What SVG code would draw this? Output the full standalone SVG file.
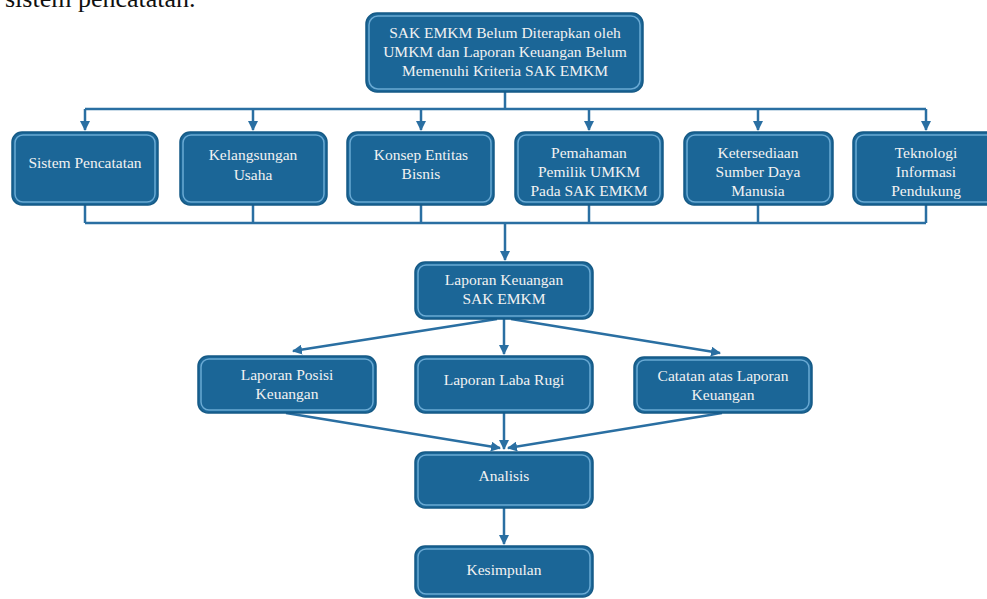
<svg xmlns="http://www.w3.org/2000/svg" width="987" height="599" viewBox="0 0 987 599">
<defs>
<style>
.box{fill:#1b6697;stroke:#155a86;stroke-width:1.5}
.hi{fill:none;stroke:#6aaad4;stroke-width:1.5}
.t{font-family:"Liberation Serif","Times New Roman",serif;font-size:15.5px;fill:#f2f2f2;text-anchor:middle}
.c{fill:none;stroke:#2a6fa2;stroke-width:2.5}
</style>
<marker id="ah" viewBox="0 0 10 10" refX="9" refY="5" markerWidth="4" markerHeight="4" orient="auto" markerUnits="strokeWidth">
<path d="M0,0 L10,5 L0,10 z" fill="#2a6fa2"/>
</marker>
</defs>
<rect width="987" height="599" fill="#ffffff"/>
<text x="5" y="7" font-family="Liberation Serif, serif" font-size="26" fill="#111">sistem pencatatan.</text>

<g id="connectors">
<path class="c" d="M505,92 V109 M85,109 H926"/>
<path class="c" marker-end="url(#ah)" d="M85,109 V130"/>
<path class="c" marker-end="url(#ah)" d="M253,109 V130"/>
<path class="c" marker-end="url(#ah)" d="M421,109 V130"/>
<path class="c" marker-end="url(#ah)" d="M589,109 V130"/>
<path class="c" marker-end="url(#ah)" d="M758,109 V130"/>
<path class="c" marker-end="url(#ah)" d="M926,109 V130"/>
<path class="c" d="M85,205 V223 M253,205 V223 M421,205 V223 M589,205 V223 M758,205 V223 M926,205 V223 M85,223 H926"/>
<path class="c" marker-end="url(#ah)" d="M505,223 V260"/>
<path class="c" marker-end="url(#ah)" d="M497,319 L293,351"/>
<path class="c" marker-end="url(#ah)" d="M504,319 V354"/>
<path class="c" marker-end="url(#ah)" d="M511,319 L720,353"/>
<path class="c" marker-end="url(#ah)" d="M286,413 L500,448"/>
<path class="c" marker-end="url(#ah)" d="M504,413 V449"/>
<path class="c" marker-end="url(#ah)" d="M722,413 L508,448"/>
<path class="c" marker-end="url(#ah)" d="M504,508 V544"/>
</g>

<g id="n-top">
<rect class="box" x="366" y="13" width="277" height="79" rx="11"/>
<rect class="hi" x="369" y="16" width="271" height="73" rx="9"/>
<text class="t" x="505" y="38">SAK EMKM Belum Diterapkan oleh</text>
<text class="t" x="505" y="57">UMKM dan Laporan Keuangan Belum</text>
<text class="t" x="505" y="76">Memenuhi Kriteria SAK EMKM</text>
</g>

<g id="n-sistem">
<rect class="box" x="12" y="132" width="146" height="73" rx="10"/>
<rect class="hi" x="15" y="135" width="140" height="67" rx="8"/>
<text class="t" x="85" y="168">Sistem Pencatatan</text>
</g>
<g id="n-kelangsungan">
<rect class="box" x="180" y="132" width="147" height="73" rx="10"/>
<rect class="hi" x="183" y="135" width="141" height="67" rx="8"/>
<text class="t" x="253" y="160">Kelangsungan</text>
<text class="t" x="253" y="180">Usaha</text>
</g>
<g id="n-konsep">
<rect class="box" x="347" y="132" width="147" height="73" rx="10"/>
<rect class="hi" x="350" y="135" width="141" height="67" rx="8"/>
<text class="t" x="421" y="160">Konsep Entitas</text>
<text class="t" x="421" y="179">Bisnis</text>
</g>
<g id="n-pemahaman">
<rect class="box" x="515" y="132" width="148" height="73" rx="10"/>
<rect class="hi" x="518" y="135" width="142" height="67" rx="8"/>
<text class="t" x="589" y="158">Pemahaman</text>
<text class="t" x="589" y="177">Pemilik UMKM</text>
<text class="t" x="589" y="196">Pada SAK EMKM</text>
</g>
<g id="n-ketersediaan">
<rect class="box" x="684" y="132" width="149" height="73" rx="10"/>
<rect class="hi" x="687" y="135" width="143" height="67" rx="8"/>
<text class="t" x="758" y="158">Ketersediaan</text>
<text class="t" x="758" y="177">Sumber Daya</text>
<text class="t" x="758" y="196">Manusia</text>
</g>
<g id="n-teknologi">
<rect class="box" x="853" y="132" width="148" height="73" rx="10"/>
<rect class="hi" x="856" y="135" width="142" height="67" rx="8"/>
<text class="t" x="926" y="158">Teknologi</text>
<text class="t" x="926" y="177">Informasi</text>
<text class="t" x="926" y="196">Pendukung</text>
</g>

<g id="n-laporan">
<rect class="box" x="415" y="262" width="178" height="57" rx="10"/>
<rect class="hi" x="418" y="265" width="172" height="51" rx="8"/>
<text class="t" x="504" y="285">Laporan Keuangan</text>
<text class="t" x="504" y="304">SAK EMKM</text>
</g>

<g id="n-posisi">
<rect class="box" x="198" y="356" width="178" height="57" rx="10"/>
<rect class="hi" x="201" y="359" width="172" height="51" rx="8"/>
<text class="t" x="287" y="380">Laporan Posisi</text>
<text class="t" x="287" y="399">Keuangan</text>
</g>
<g id="n-labarugi">
<rect class="box" x="415" y="356" width="178" height="57" rx="10"/>
<rect class="hi" x="418" y="359" width="172" height="51" rx="8"/>
<text class="t" x="504" y="385">Laporan Laba Rugi</text>
</g>
<g id="n-catatan">
<rect class="box" x="634" y="357" width="178" height="56" rx="10"/>
<rect class="hi" x="637" y="360" width="172" height="50" rx="8"/>
<text class="t" x="723" y="381">Catatan atas Laporan</text>
<text class="t" x="723" y="400">Keuangan</text>
</g>

<g id="n-analisis">
<rect class="box" x="415" y="452" width="178" height="56" rx="10"/>
<rect class="hi" x="418" y="455" width="172" height="50" rx="8"/>
<text class="t" x="504" y="481">Analisis</text>
</g>
<g id="n-kesimpulan">
<rect class="box" x="415" y="546" width="178" height="51" rx="10"/>
<rect class="hi" x="418" y="549" width="172" height="45" rx="8"/>
<text class="t" x="504" y="575">Kesimpulan</text>
</g>
</svg>
